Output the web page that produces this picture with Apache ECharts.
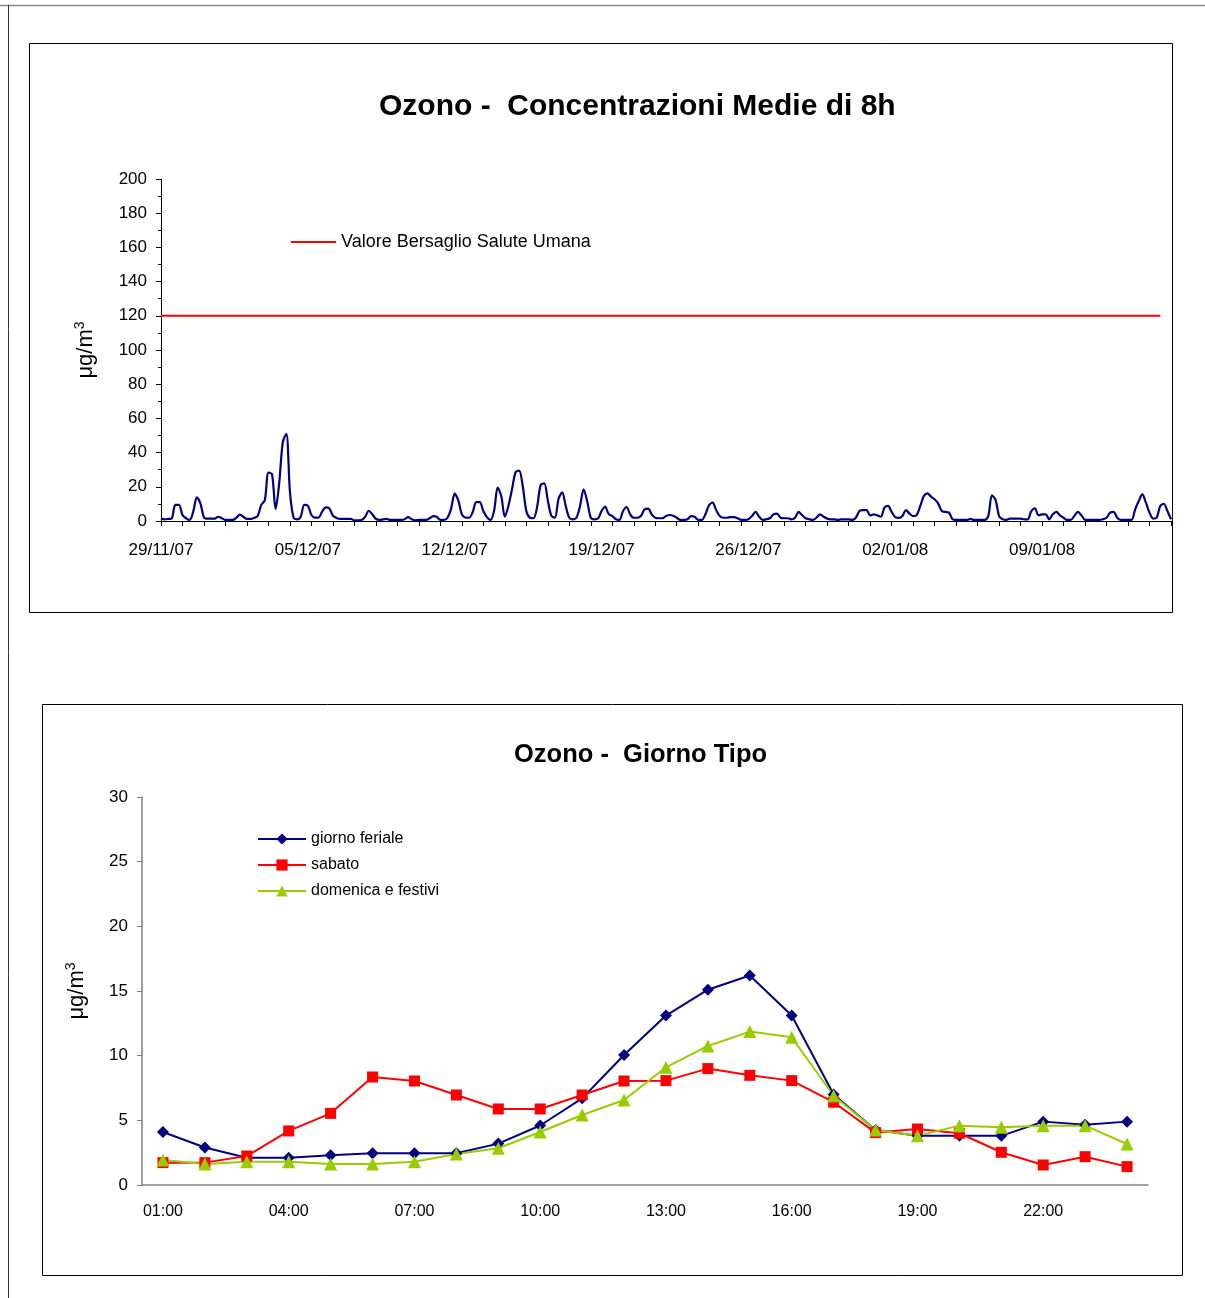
<!DOCTYPE html>
<html>
<head>
<meta charset="utf-8">
<script src="https://cdn.jsdelivr.net/npm/echarts@6/dist/echarts.min.js"></script>
<style>
  html, body { margin: 0; padding: 0; background: #fff; }
  #main { width: 1205px; height: 1298px; }
</style>
</head>
<body>
<div id="main"></div>
<script>
// medie mobili 8h, sei letture al giorno a partire dal 29/11/07 (una riga = un giorno)
const ozono8h = [
  1.5, 1.0, 1.2, 1.5, 9.4, 9.4,
  3.5, 1.6, 0.6, 5.5, 13.8, 10.3,
  2.1, 1.4, 1.4, 1.4, 2.5, 1.6,
  0.6, 0.6, 0.6, 1.8, 3.7, 2.5,
  1.2, 1.2, 1.8, 2.9, 9.4, 12.3,
  28.3, 27.3, 7.0, 22.0, 46.0, 51.0,
  17.0, 2.0, 1.0, 2.5, 9.4, 9.0,
  3.5, 2.0, 2.0, 5.5, 8.0, 7.4,
  3.1, 1.8, 1.2, 1.2, 1.2, 1.2,
  0.4, 0.4, 0.6, 2.5, 6.0, 3.9,
  1.2, 0.6, 1.0, 1.2, 0.6, 0.6,
  0.6, 0.6, 1.0, 2.3, 1.0, 0.4,
  0.6, 0.6, 0.6, 1.6, 2.9, 2.5,
  0.6, 0.6, 1.9, 7.2, 16.0, 12.0,
  3.9, 2.0, 1.9, 5.0, 11.0, 11.0,
  5.8, 2.3, 0.6, 6.0, 19.5, 14.6,
  2.5, 8.8, 18.5, 28.5, 29.5, 20.5,
  5.8, 1.9, 1.6, 8.0, 21.0, 22.0,
  12.0, 3.0, 2.0, 13.0, 16.8, 8.8,
  1.9, 1.0, 1.9, 8.8, 18.5, 11.5,
  2.0, 1.0, 1.4, 5.8, 8.4, 4.0,
  2.9, 1.0, 0.6, 5.8, 8.2, 3.9,
  1.9, 1.9, 2.9, 6.8, 7.2, 3.9,
  1.9, 1.6, 1.6, 2.9, 3.5, 3.1,
  1.9, 0.6, 0.6, 1.0, 2.9, 2.5,
  0.6, 0.6, 3.9, 9.2, 10.7, 6.4,
  2.9, 1.9, 1.9, 2.3, 2.3, 1.6,
  0.6, 0.6, 1.0, 2.9, 5.3, 2.5,
  0.6, 1.0, 1.6, 3.9, 4.3, 1.9,
  1.6, 1.6, 1.0, 1.9, 5.3, 3.5,
  1.6, 1.0, 0.6, 1.9, 3.9, 2.5,
  1.4, 1.0, 1.0, 0.6, 1.0, 1.0,
  1.0, 0.6, 1.9, 5.8, 6.4, 6.4,
  3.3, 3.9, 3.3, 2.5, 7.8, 8.8,
  5.3, 2.3, 1.8, 2.9, 6.4, 4.3,
  2.9, 3.5, 8.8, 14.6, 16.2, 14.2,
  12.7, 10.2, 5.8, 5.3, 4.9, 1.0,
  0.6, 0.6, 0.6, 0.6, 1.2, 0.6,
  0.6, 0.6, 0.6, 3.0, 15.0, 12.5,
  2.9, 1.0, 0.6, 1.4, 1.4, 1.4,
  1.4, 1.0, 1.0, 5.8, 7.4, 3.3,
  3.9, 3.9, 1.0, 3.9, 5.3, 3.3,
  1.9, 0.6, 0.6, 2.9, 5.3, 3.3,
  0.6, 0.6, 0.6, 0.6, 0.6, 1.0,
  1.9, 4.9, 5.3, 1.9, 0.6, 0.6,
  0.6, 0.6, 6.8, 11.7, 15.6, 10.7,
  4.9, 1.4, 1.9, 8.8, 10.1, 5.8,
  1.0
]
const dateLabels = ['29/11/07', '05/12/07', '12/12/07', '19/12/07', '26/12/07', '02/01/08', '09/01/08']
const valoreBersaglio = 120
const nomeBersaglio = 'Valore Bersaglio Salute Umana'

// giorno tipo
const ore = ['01:00', '02:00', '03:00', '04:00', '05:00', '06:00', '07:00', '08:00', '09:00', '10:00', '11:00', '12:00',
  '13:00', '14:00', '15:00', '16:00', '17:00', '18:00', '19:00', '20:00', '21:00', '22:00', '23:00', '24:00']
const feriale = [4.1, 2.9, 2.1, 2.1, 2.3, 2.45, 2.45, 2.45, 3.2, 4.6, 6.7, 10.05, 13.1, 15.1, 16.2, 13.1, 7.0, 4.25, 3.8, 3.8, 3.8, 4.9, 4.65, 4.9]
const sabato = [1.73, 1.73, 2.24, 4.18, 5.54, 8.35, 8.04, 6.96, 5.88, 5.88, 6.96, 8.04, 8.07, 9.0, 8.48, 8.07, 6.4, 4.05, 4.33, 4.0, 2.53, 1.55, 2.19, 1.42]
const festivi = [1.93, 1.62, 1.8, 1.8, 1.62, 1.62, 1.8, 2.4, 2.84, 4.1, 5.41, 6.57, 9.1, 10.75, 11.86, 11.42, 6.9, 4.25, 3.8, 4.59, 4.46, 4.59, 4.59, 3.17]

const font = 'Arial, "Liberation Sans", sans-serif'
const labelStep = 41 // una etichetta data ogni 41 letture
const indici = ozono8h.map((v, i) => i)
const ultimo = ozono8h.length - 1

const chart = echarts.init(document.getElementById('main'))

const unita = {
  formatter: 'μg/m{sup|3}',
  rich: { sup: { fontSize: 14, verticalAlign: 'top', padding: [0, 0, 12, 0], fontFamily: font, color: '#000' } }
}

const option = {
  backgroundColor: '#fff',
  animation: false,
  textStyle: { fontFamily: font, color: '#000' },
  graphic: [
    { type: 'line', shape: { x1: 0, y1: 5.5, x2: 1205, y2: 5.5 }, style: { stroke: '#8a8a8a', lineWidth: 1.5 } },
    { type: 'line', shape: { x1: 8.5, y1: 5, x2: 8.5, y2: 1298 }, style: { stroke: '#333', lineWidth: 1 } },
    { type: 'rect', shape: { x: 29.5, y: 43.5, width: 1143, height: 569 }, style: { fill: 'none', stroke: '#000', lineWidth: 1 } },
    { type: 'rect', shape: { x: 42.5, y: 704.5, width: 1140, height: 571 }, style: { fill: 'none', stroke: '#000', lineWidth: 1 } }
  ],
  title: [
    {
      text: 'Ozono -  Concentrazioni Medie di 8h',
      left: 374, top: 87,
      textStyle: { fontSize: 30, fontWeight: 'bold', fontFamily: font, color: '#000' }
    },
    {
      text: 'Ozono -  Giorno Tipo',
      left: 509, top: 737,
      textStyle: { fontSize: 25.5, fontWeight: 'bold', fontFamily: font, color: '#000' }
    }
  ],
  legend: [
    {
      data: [{ name: nomeBersaglio, icon: 'rect' }],
      left: 286, top: 228,
      itemWidth: 45, itemHeight: 2, itemGap: 10,
      textStyle: { fontSize: 18, fontFamily: font, color: '#000' }
    },
    {
      data: ['giorno feriale', 'sabato', 'domenica e festivi'],
      orient: 'vertical',
      left: 252, top: 826,
      itemWidth: 48, itemHeight: 14, itemGap: 10,
      textStyle: { fontSize: 16, fontFamily: font, color: '#000' }
    }
  ],
  grid: [
    { left: 161, top: 179, width: 1010, height: 342 },
    { left: 142, top: 797, width: 1006, height: 388 }
  ],
  xAxis: [
    {
      type: 'category', gridIndex: 0, data: indici, boundaryGap: false,
      axisLine: { lineStyle: { color: '#000', width: 1 } },
      axisTick: { interval: 5, length: 5, lineStyle: { color: '#000' } },
      axisLabel: {
        interval: labelStep - 1, margin: 21, fontSize: 17, color: '#000', fontFamily: font,
        formatter: (v, i) => dateLabels[Math.round(i / labelStep)] || ''
      },
      splitLine: { show: false }
    },
    {
      type: 'category', gridIndex: 1, data: ore, boundaryGap: true,
      axisLine: { lineStyle: { color: '#808080', width: 1.5 } },
      axisTick: { interval: 0, length: 5, lineStyle: { color: '#808080' } },
      axisLabel: { interval: 2, margin: 19, fontSize: 16, color: '#000', fontFamily: font },
      splitLine: { show: false }
    }
  ],
  yAxis: [
    {
      type: 'value', gridIndex: 0, min: 0, max: 200, interval: 20,
      name: unita.formatter, nameLocation: 'middle', nameGap: 62, nameRotate: 90,
      nameTextStyle: { fontSize: 22, fontFamily: font, color: '#000', rich: unita.rich },
      axisLine: { show: true, lineStyle: { color: '#000' } },
      axisTick: { show: true, length: 5, lineStyle: { color: '#000' } },
      minorTick: { show: true, splitNumber: 2, length: 3, lineStyle: { color: '#000' } },
      axisLabel: { margin: 14, fontSize: 17, color: '#000', fontFamily: font },
      splitLine: { show: false }
    },
    {
      type: 'value', gridIndex: 1, min: 0, max: 30, interval: 5,
      name: unita.formatter, nameLocation: 'middle', nameGap: 52, nameRotate: 90,
      nameTextStyle: { fontSize: 22, fontFamily: font, color: '#000', rich: unita.rich },
      axisLine: { show: true, lineStyle: { color: '#808080', width: 1.5 } },
      axisTick: { show: true, length: 5, lineStyle: { color: '#808080' } },
      axisLabel: { margin: 14, fontSize: 17, color: '#000', fontFamily: font },
      splitLine: { show: false }
    }
  ],
  series: [
    {
      name: 'Ozono', type: 'line', xAxisIndex: 0, yAxisIndex: 0,
      data: ozono8h, showSymbol: false, smooth: 0.3,
      lineStyle: { color: '#000080', width: 2.2 }, itemStyle: { color: '#000080' }
    },
    {
      name: nomeBersaglio, type: 'line', xAxisIndex: 0, yAxisIndex: 0,
      data: [[0, valoreBersaglio], [ultimo - 3, valoreBersaglio]], showSymbol: false, symbol: 'none',
      lineStyle: { color: '#ff0000', width: 2 }, itemStyle: { color: '#ff0000' }
    },
    {
      name: 'giorno feriale', type: 'line', xAxisIndex: 1, yAxisIndex: 1, data: feriale,
      symbol: 'diamond', symbolSize: 12,
      lineStyle: { color: '#000080', width: 2 }, itemStyle: { color: '#000080' }
    },
    {
      name: 'sabato', type: 'line', xAxisIndex: 1, yAxisIndex: 1, data: sabato,
      symbol: 'rect', symbolSize: 11,
      lineStyle: { color: '#ff0000', width: 2 }, itemStyle: { color: '#ff0000' }
    },
    {
      name: 'domenica e festivi', type: 'line', xAxisIndex: 1, yAxisIndex: 1, data: festivi,
      symbol: 'triangle', symbolSize: 13,
      lineStyle: { color: '#99cc00', width: 2 }, itemStyle: { color: '#99cc00' }
    }
  ]
}

chart.setOption(option)
</script>
</body>
</html>
